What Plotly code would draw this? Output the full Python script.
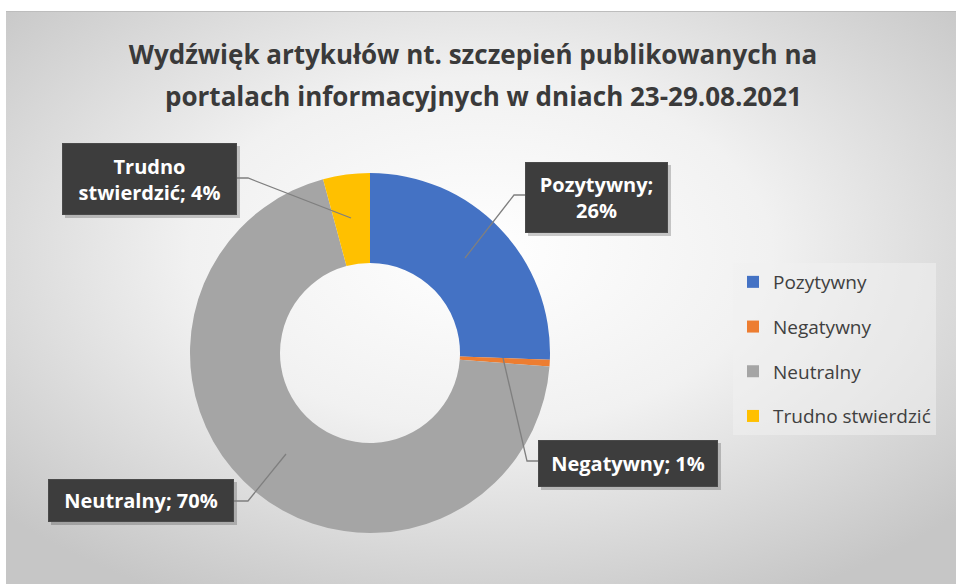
import base64
import plotly.graph_objects as go

# ---------------- data ----------------
categories = ["Pozytywny", "Negatywny", "Neutralny", "Trudno stwierdzić"]
values = [25.6, 0.6, 69.6, 4.2]   # percent shares
colors = ["#4472C4", "#ED7D31", "#A5A5A5", "#FFC000"]
title_line1 = "Wydźwięk artykułów nt. szczepień publikowanych na"
title_line2 = "portalach informacyjnych w dniach 23-29.08.2021"

W, H = 956, 584
FONT = "Open Sans"


def fx(x):
    return x / W


def fy(y):
    return 1 - y / H


# ---------------- background (radial gradient) ----------------
svg = f"""<svg xmlns='http://www.w3.org/2000/svg' width='{W}' height='{H}' viewBox='0 0 {W} {H}'>
<defs><radialGradient id='g' cx='50%' cy='42%' r='68%'>
<stop offset='0' stop-color='#ffffff'/><stop offset='0.45' stop-color='#f1f1f1'/>
<stop offset='1' stop-color='#c6c6c6'/></radialGradient></defs>
<rect x='0' y='0' width='{W}' height='{H}' fill='#ffffff'/>
<rect x='6' y='12' width='{W-6}' height='{H-12}' fill='url(#g)'/>
<line x1='6' y1='11.5' x2='{W}' y2='11.5' stroke='#bdbdbd' stroke-width='1'/>
</svg>"""
bg_src = "data:image/svg+xml;base64," + base64.b64encode(svg.encode("utf-8")).decode()

# ---------------- donut geometry ----------------
cx, cy, R = 370, 353, 180

fig = go.Figure()
fig.add_trace(go.Pie(
    labels=categories,
    values=values,
    marker=dict(colors=colors, line=dict(width=0)),
    hole=0.5,
    sort=False,
    direction="clockwise",
    rotation=0,
    textinfo="none",
    showlegend=False,
    domain=dict(x=[fx(cx - R), fx(cx + R)], y=[fy(cy + R), fy(cy - R)]),
))

# legend entries (spaced like the original)
for cat, col in zip(categories, colors):
    fig.add_trace(go.Scatter(
        x=[None], y=[None], mode="markers", name=cat, legendgroup=cat,
        marker=dict(symbol="square", size=12, color=col),
        hoverinfo="skip",
    ))

# ---------------- data labels ----------------
label_boxes = {
    "Pozytywny": dict(c=(596.5, 197.5), w=143, h=71,
                      pts=[(465, 258), (514, 195), (525, 195)]),
    "Negatywny": dict(c=(628, 463.5), w=180, h=47,
                      pts=[(503, 358), (527, 461), (538, 461)]),
    "Neutralny": dict(c=(141, 500.5), w=186, h=43,
                      pts=[(286, 454), (248, 501), (234, 501)]),
    "Trudno stwierdzić": dict(c=(149.5, 179), w=175, h=72,
                              pts=[(351, 218), (248, 178), (237, 178)]),
}

shapes = []
annotations = []
for cat, val in zip(categories, values):
    b = label_boxes[cat]
    pct = f"{round(val)}%"
    if cat == "Trudno stwierdzić":
        txt = f"Trudno<br>stwierdzić; {pct}"
    elif cat == "Pozytywny":
        txt = f"{cat};<br>{pct}"
    else:
        txt = f"{cat}; {pct}"
    x0, y0 = b["c"][0] - b["w"] / 2, b["c"][1] - b["h"] / 2
    x1, y1 = b["c"][0] + b["w"] / 2, b["c"][1] + b["h"] / 2
    # shadow
    shapes.append(dict(type="rect", xref="paper", yref="paper",
                       x0=fx(x0 + 3), x1=fx(x1 + 3), y0=fy(y1 + 3), y1=fy(y0 + 3),
                       fillcolor="rgba(0,0,0,0.2)", line=dict(width=0), layer="above"))
    # leader line
    path = "M " + " L ".join(f"{fx(p[0])},{fy(p[1])}" for p in b["pts"])
    shapes.append(dict(type="path", xref="paper", yref="paper", path=path,
                       line=dict(color="#7f7f7f", width=1.3), layer="above"))
    annotations.append(dict(
        x=fx(b["c"][0]), y=fy(b["c"][1]), xref="paper", yref="paper",
        xanchor="center", yanchor="middle", showarrow=False,
        text=f"<b>{txt}</b>", align="center",
        width=b["w"] - 2, height=b["h"] - 2, borderpad=0,
        bgcolor="#3d3d3d", bordercolor="#4a4a4a", borderwidth=1,
        font=dict(family=FONT, size=20, color="#ffffff"),
    ))

# second title line
annotations.append(dict(
    x=fx(483), y=fy(96), xref="paper", yref="paper", xanchor="center", yanchor="middle",
    showarrow=False, text=f"<b>{title_line2}</b>",
    font=dict(family=FONT, size=26, color="#3a3a3a"),
))

fig.update_layout(
    width=W, height=H,
    margin=dict(l=0, r=0, t=0, b=0),
    paper_bgcolor="#ffffff",
    plot_bgcolor="rgba(0,0,0,0)",
    images=[dict(source=bg_src, xref="paper", yref="paper", x=0, y=1,
                 sizex=1, sizey=1, xanchor="left", yanchor="top",
                 sizing="stretch", layer="below")],
    title=dict(text=f"<b>{title_line1}</b>", x=fx(473), xanchor="center",
               y=fy(55), yanchor="middle", yref="paper",
               font=dict(family=FONT, size=26, color="#3a3a3a")),
    xaxis=dict(visible=False), yaxis=dict(visible=False),
    legend=dict(x=fx(733), y=fy(263), xanchor="left", yanchor="top",
                bgcolor="rgba(240,240,240,0.55)", borderwidth=0,
                tracegroupgap=17, itemwidth=30, entrywidth=175,
                font=dict(family=FONT, size=19, color="#404040")),
    shapes=shapes,
    annotations=annotations,
)

fig.write_html("out.html")
